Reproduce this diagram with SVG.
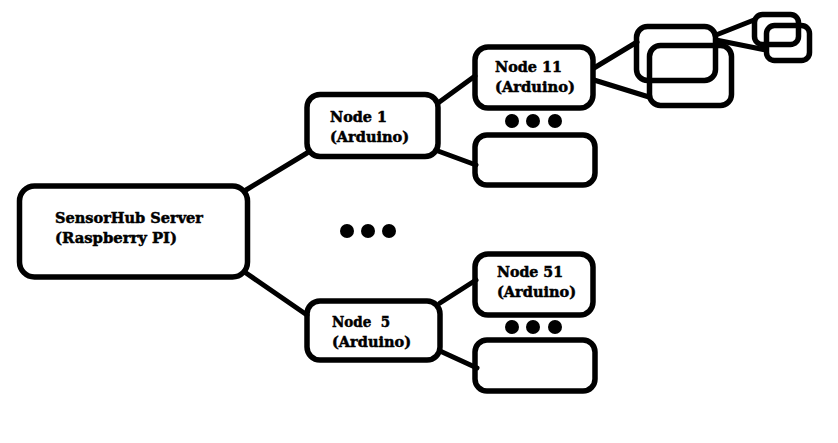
<svg xmlns="http://www.w3.org/2000/svg" width="838" height="443" viewBox="0 0 838 443">
<style>
.box{fill:none;stroke:#000;stroke-width:5.5}
.ln{stroke:#000;stroke-width:5;stroke-linecap:round}
.t{font-family:"DejaVu Serif","Liberation Serif",serif;font-weight:bold;font-size:14.5px;fill:#000;stroke:#000;stroke-width:0.5}
.dot{fill:#000}
</style>
<rect width="838" height="443" fill="#fff"/>
<g id="connectors">
<line class="ln" x1="246" y1="190" x2="307" y2="153"/>
<line class="ln" x1="246" y1="273" x2="307" y2="315"/>
<line class="ln" x1="438" y1="103" x2="475" y2="76"/>
<line class="ln" x1="438" y1="151" x2="476" y2="165"/>
<line class="ln" x1="440" y1="303" x2="476" y2="280"/>
<line class="ln" x1="440" y1="351" x2="477" y2="368"/>
<line class="ln" x1="594" y1="68" x2="637" y2="42"/>
<line class="ln" x1="594" y1="80" x2="649" y2="97"/>
<line class="ln" x1="716" y1="35" x2="754" y2="20"/>
<line class="ln" x1="716" y1="40" x2="766" y2="50"/>
</g>
<g id="server">
<rect class="box" x="19.5" y="186" width="228" height="91" rx="15"/>
<text class="t" x="55" y="223" textLength="148" lengthAdjust="spacingAndGlyphs">SensorHub Server</text>
<text class="t" x="55" y="243" textLength="122" lengthAdjust="spacingAndGlyphs">(Raspberry PI)</text>
</g>
<g id="node1">
<rect class="box" x="307" y="94.5" width="131" height="62" rx="13"/>
<text class="t" x="330" y="122" textLength="57" lengthAdjust="spacingAndGlyphs">Node 1</text>
<text class="t" x="330" y="142" textLength="79" lengthAdjust="spacingAndGlyphs">(Arduino)</text>
</g>
<g id="node5">
<rect class="box" x="307" y="301" width="133" height="59" rx="13"/>
<text class="t" x="332" y="327" textLength="58" lengthAdjust="spacingAndGlyphs">Node&#160; 5</text>
<text class="t" x="332" y="347" textLength="79" lengthAdjust="spacingAndGlyphs">(Arduino)</text>
</g>
<g id="node11">
<rect class="box" x="475" y="47" width="118" height="61" rx="13"/>
<text class="t" x="495" y="72" textLength="67" lengthAdjust="spacingAndGlyphs">Node 11</text>
<text class="t" x="495" y="92" textLength="80" lengthAdjust="spacingAndGlyphs">(Arduino)</text>
</g>
<g id="node1x">
<rect class="box" x="475" y="135" width="120" height="50" rx="12"/>
</g>
<g id="node51">
<rect class="box" x="475" y="254" width="118" height="61" rx="13"/>
<text class="t" x="497" y="277" textLength="66" lengthAdjust="spacingAndGlyphs">Node 51</text>
<text class="t" x="497" y="297" textLength="79" lengthAdjust="spacingAndGlyphs">(Arduino)</text>
</g>
<g id="node5x">
<rect class="box" x="475" y="340" width="120" height="51" rx="12"/>
</g>
<g id="leafA">
<rect class="box" x="636.5" y="26.5" width="79" height="54" rx="11"/>
</g>
<g id="leafB">
<rect class="box" x="649.5" y="45.5" width="82" height="60" rx="11"/>
</g>
<g id="leafC">
<rect class="box" x="754.5" y="14.5" width="44" height="30" rx="8"/>
</g>
<g id="leafD">
<rect class="box" x="766.5" y="25.5" width="43" height="35" rx="8"/>
</g>
<g id="dots">
<circle class="dot" cx="347" cy="231" r="7"/>
<circle class="dot" cx="368" cy="231" r="7"/>
<circle class="dot" cx="389" cy="231" r="7"/>
<circle class="dot" cx="512" cy="121" r="7"/>
<circle class="dot" cx="533" cy="121" r="7"/>
<circle class="dot" cx="555" cy="121" r="7"/>
<circle class="dot" cx="512" cy="327" r="7"/>
<circle class="dot" cx="533" cy="327" r="7"/>
<circle class="dot" cx="555" cy="327" r="7"/>
</g>
</svg>
